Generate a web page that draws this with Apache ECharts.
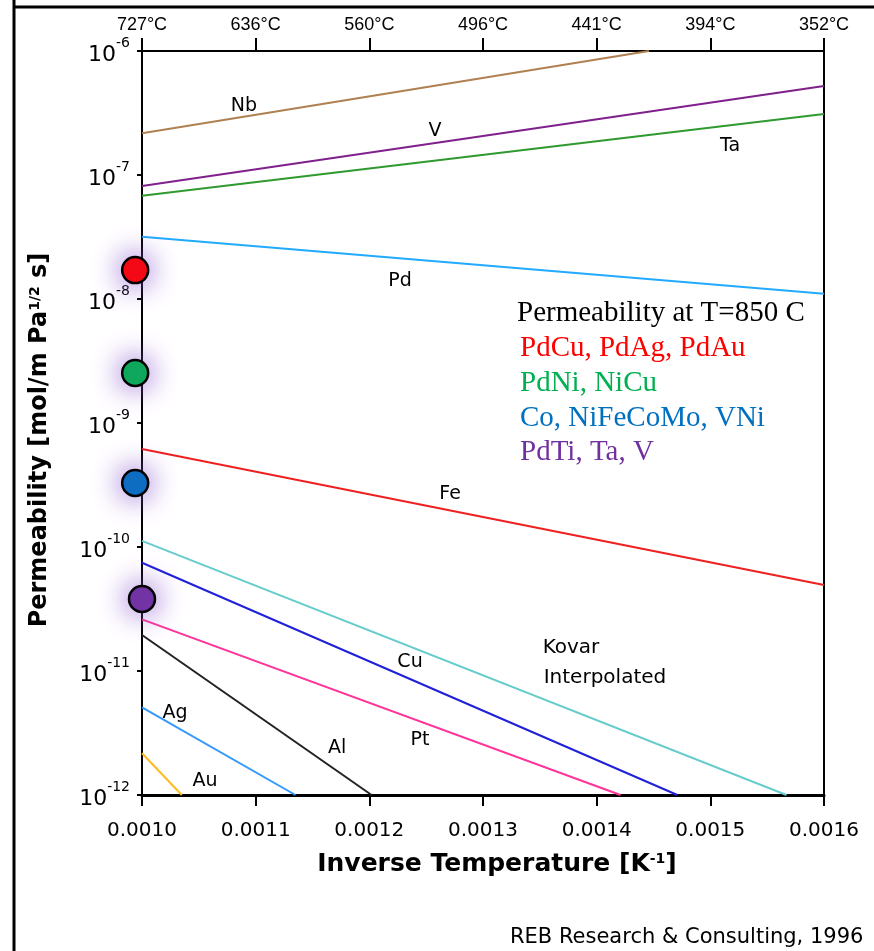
<!DOCTYPE html>
<html>
<head>
<meta charset="utf-8">
<script src="https://cdn.jsdelivr.net/npm/echarts@6/dist/echarts.min.js"></script>
<style>
html,body{margin:0;padding:0;background:#fff;}
#chart{width:874px;height:951px;}
</style>
</head>
<body>
<div id="chart"></div>
<script>
// ---- data ----
const xTicks = [0.0010, 0.0011, 0.0012, 0.0013, 0.0014, 0.0015, 0.0016];
const topLabels = ['727°C', '636°C', '560°C', '496°C', '441°C', '394°C', '352°C'];

const nbX = [0.0010, 0.001446];     const nbY = [2.17e-7, 1.0e-6];
const vX = [0.0010, 0.0016];        const vY = [8.14e-8, 5.22e-7];
const taX = [0.0010, 0.0016];       const taY = [6.81e-8, 3.10e-7];
const pdX = [0.0010, 0.0016];       const pdY = [3.18e-8, 1.10e-8];
const feX = [0.0010, 0.0016];       const feY = [6.17e-10, 4.94e-11];
const kovarX = [0.0010, 0.001567];  const kovarY = [1.12e-10, 1.0e-12];
const cuX = [0.0010, 0.001471];     const cuY = [7.46e-11, 1.0e-12];
const ptX = [0.0010, 0.001421];     const ptY = [2.61e-11, 1.0e-12];
const alX = [0.0010, 0.001202];     const alY = [1.95e-11, 1.0e-12];
const agX = [0.0010, 0.001135];     const agY = [5.09e-12, 1.0e-12];
const auX = [0.0010, 0.001035];     const auY = [2.17e-12, 1.0e-12];

// permeability at 850 C markers
const pointX = [0.000994, 0.000994, 0.000994, 0.0010];
const pointY = [1.71e-8, 2.53e-9, 3.28e-10, 3.81e-11];

// in-plot line labels (anchored in data space)
const labelText = ['Nb', 'V', 'Ta', 'Pd', 'Fe', 'Cu', 'Pt', 'Al', 'Ag', 'Au'];
const labelX = [0.0010897, 0.0012578, 0.0015173, 0.0012270, 0.0012710, 0.0012358, 0.0012446, 0.0011716, 0.0010290, 0.0010554];
const labelY = [3.60e-7, 2.27e-7, 1.71e-7, 1.40e-8, 2.67e-10, 1.18e-11, 2.78e-12, 2.39e-12, 4.58e-12, 1.30e-12];
const kovarText = ['Kovar', 'Interpolated'];
const kovarLabelX = [0.0013774, 0.0014073];
const kovarLabelY = [1.53e-11, 8.79e-12];

const legendTitle = 'Permeability at T=850 C';
const legendGroups = ['PdCu, PdAg, PdAu', 'PdNi, NiCu', 'Co, NiFeCoMo, VNi', 'PdTi, Ta, V'];
const creditText = 'REB Research & Consulting, 1996';

// ---- styles ----
const lineDefs = [
  {name: 'Nb', x: nbX, y: nbY, color: '#B08050'},
  {name: 'V', x: vX, y: vY, color: '#80208C'},
  {name: 'Ta', x: taX, y: taY, color: '#2F9A2F'},
  {name: 'Pd', x: pdX, y: pdY, color: '#22AAFF'},
  {name: 'Fe', x: feX, y: feY, color: '#EE2020'},
  {name: 'Kovar', x: kovarX, y: kovarY, color: '#66CCCC'},
  {name: 'Cu', x: cuX, y: cuY, color: '#2020D8'},
  {name: 'Pt', x: ptX, y: ptY, color: '#FF3399'},
  {name: 'Al', x: alX, y: alY, color: '#222222'},
  {name: 'Ag', x: agX, y: agY, color: '#3399FF'},
  {name: 'Au', x: auX, y: auY, color: '#FFBB22'}
];
const pointColors = ['#FF0000', '#00B050', '#0070C0', '#7030A0'];
const legendColors = ['#FF0000', '#00B050', '#0070C0', '#7030A0'];

const zip = (a, b) => a.map((v, i) => [v, b[i]]);

const series = lineDefs.map(d => ({
  name: d.name,
  type: 'line',
  data: zip(d.x, d.y),
  showSymbol: false,
  symbol: 'none',
  lineStyle: {color: d.color, width: 2},
  silent: true,
  z: 3
}));

function labelSeries(texts, xs, ys, size) {
  return {
    type: 'scatter',
    data: texts.map((t, i) => ({value: [xs[i], ys[i]], name: t})),
    symbolSize: 1,
    itemStyle: {color: 'rgba(0,0,0,0)', opacity: 1},
    clip: false,
    label: {
      show: true, position: 'inside', formatter: p => p.name,
      fontFamily: 'DejaVu Sans', fontSize: size, color: '#000', opacity: 1,
      textBorderWidth: 0
    },
    silent: true,
    z: 4
  };
}
series.push(labelSeries(labelText, labelX, labelY, 19));
series.push(labelSeries(kovarText, kovarLabelX, kovarLabelY, 20));

series.push({
  type: 'scatter',
  data: pointX.map((x, i) => ({
    value: [x, pointY[i]],
    itemStyle: {color: pointColors[i]}
  })),
  symbol: 'circle',
  symbolSize: 26,
  clip: false,
  itemStyle: {
    opacity: 1,
    borderColor: '#000', borderWidth: 2.5,
    shadowBlur: 28, shadowColor: 'rgba(140,90,210,0.95)'
  },
  silent: true,
  z: 10
});

const option = {
  animation: false,
  backgroundColor: '#fff',
  grid: {
    left: 142, right: 50, top: 51, bottom: 156,
    show: true, borderColor: '#000', borderWidth: 2, backgroundColor: 'transparent'
  },
  xAxis: [
    {
      type: 'value', position: 'bottom',
      min: 0.0010, max: 0.0016, interval: 0.0001,
      axisLine: {show: true, onZero: false, lineStyle: {color: '#000', width: 3}},
      axisTick: {show: true, length: 11, lineStyle: {color: '#000', width: 2}},
      axisLabel: {
        margin: 26, color: '#000', fontFamily: 'DejaVu Sans', fontSize: 20,
        formatter: v => v.toFixed(4)
      },
      splitLine: {show: false},
      name: 'Inverse Temperature [K{sup|-1}]',
      nameLocation: 'middle', nameGap: 57,
      nameTextStyle: {
        color: '#000', fontFamily: 'DejaVu Sans', fontWeight: 'bold', fontSize: 25,
        padding: [0, 0, 0, 28],
        rich: {
          sup: {fontSize: 14, fontWeight: 'bold', fontFamily: 'DejaVu Sans', verticalAlign: 'top', lineHeight: 15, color: '#000'}
        }
      }
    },
    {
      type: 'value', position: 'top',
      min: 0.0010, max: 0.0016, interval: 0.0001,
      axisLine: {show: true, onZero: false, lineStyle: {color: '#000', width: 2}},
      axisTick: {show: true, length: 13, lineStyle: {color: '#000', width: 2}},
      axisLabel: {
        margin: 17, color: '#000', fontFamily: 'Liberation Sans', fontSize: 18,
        formatter: v => topLabels[Math.round((v - 0.0010) / 0.0001)] || ''
      },
      splitLine: {show: false}
    }
  ],
  yAxis: {
    type: 'log', logBase: 10, min: 1e-12, max: 1e-6,
    axisLine: {show: true, onZero: false, lineStyle: {color: '#000', width: 2}},
    axisTick: {show: true, length: 5, lineStyle: {color: '#000', width: 2}},
    minorTick: {show: false},
    splitLine: {show: false},
    axisLabel: {
      margin: 12, color: '#000',
      formatter: v => '{b|10}{s|' + Math.round(Math.log10(v)) + '}',
      rich: {
        b: {fontFamily: 'DejaVu Sans', fontSize: 22, color: '#000', lineHeight: 30, verticalAlign: 'bottom'},
        s: {fontFamily: 'DejaVu Sans', fontSize: 14, color: '#000', lineHeight: 16, verticalAlign: 'top'}
      }
    },
    name: 'Permeability [mol/m Pa{sup|1/2} s]',
    nameLocation: 'middle', nameGap: 90,
    nameTextStyle: {
      color: '#000', fontFamily: 'DejaVu Sans', fontWeight: 'bold', fontSize: 24,
      padding: [0, 34, 0, 0],
      rich: {
        sup: {fontSize: 14, fontWeight: 'bold', fontFamily: 'DejaVu Sans', verticalAlign: 'top', lineHeight: 15, color: '#000'}
      }
    }
  },
  series: series,
  graphic: [
    {type: 'line', shape: {x1: 14, y1: 0, x2: 14, y2: 951}, style: {stroke: '#000', lineWidth: 3}, silent: true},
    {type: 'line', shape: {x1: 14, y1: 7, x2: 874, y2: 7}, style: {stroke: '#000', lineWidth: 3}, silent: true},
    {
      type: 'text', left: 517, top: 299,
      style: {text: legendTitle, fill: '#000', font: '29px "Liberation Serif"'}
    }
  ].concat(legendGroups.map((t, i) => ({
    type: 'text', left: 520, top: 334 + i * 34.7,
    style: {text: t, fill: legendColors[i], font: '29px "Liberation Serif"'}
  }))).concat([
    {
      type: 'text', left: 510, top: 927,
      style: {text: creditText, fill: '#000', font: '21px "DejaVu Sans"'}
    }
  ])
};

const chart = echarts.init(document.getElementById('chart'), null, {renderer: 'canvas'});
chart.setOption(option);
</script>
</body>
</html>
